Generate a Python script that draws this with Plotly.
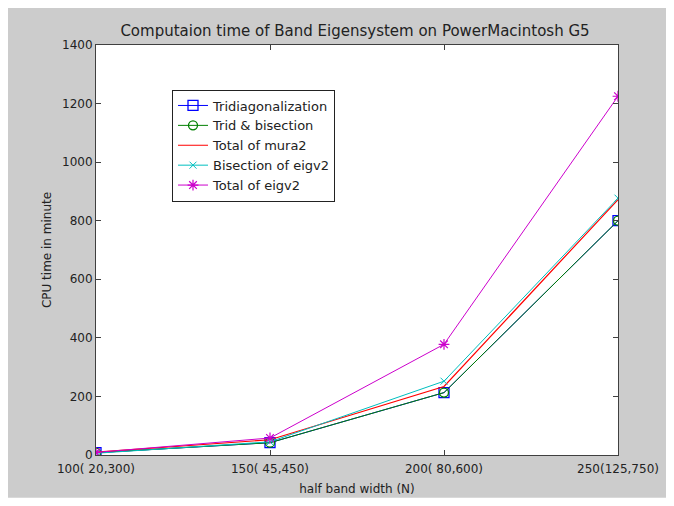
import plotly.graph_objects as go

# ---- data ----
half_band = [100, 150, 200, 250]
tick_labels = ["100( 20,300)", "150( 45,450)", "200( 80,600)", "250(125,750)"]
tridiagonalization = [8, 42, 213, 800]
trid_bisection = [8, 42, 213, 800]
total_mura2 = [10, 52, 234, 872]
bisection_eigv2 = [6, 45, 252, 877]
total_eigv2 = [9, 58, 378, 1225]
y_ticks = [0, 200, 400, 600, 800, 1000, 1200, 1400]

FONT = "DejaVu Sans, sans-serif"
TXT = "#222222"

fig = go.Figure()
fig.add_trace(go.Scatter(x=half_band, y=tridiagonalization, name="Tridiagonalization",
                         mode="lines+markers", line=dict(color="#0000ff", width=1),
                         marker=dict(symbol="square-open", size=10, color="#0000ff", line=dict(width=1.3))))
fig.add_trace(go.Scatter(x=half_band, y=trid_bisection, name="Trid & bisection",
                         mode="lines+markers", line=dict(color="#008000", width=1),
                         marker=dict(symbol="circle-open", size=9, color="#008000", line=dict(width=1.3))))
fig.add_trace(go.Scatter(x=half_band, y=total_mura2, name="Total of mura2",
                         mode="lines", line=dict(color="#ff0000", width=1.2)))
fig.add_trace(go.Scatter(x=half_band, y=bisection_eigv2, name="Bisection of eigv2",
                         mode="lines+markers", line=dict(color="#00bfbf", width=1),
                         marker=dict(symbol="x-thin-open", size=7, color="#00bfbf", line=dict(width=1, color="#00bfbf"))))
fig.add_trace(go.Scatter(x=half_band, y=total_eigv2, name="Total of eigv2",
                         mode="lines+markers", line=dict(color="#cc00cc", width=1),
                         marker=dict(symbol="asterisk-open", size=9, color="#cc00cc", line=dict(width=1.2, color="#cc00cc"))))

axis_common = dict(showline=True, linecolor="#404040", linewidth=1, mirror="ticks",
                   ticks="inside", ticklen=5, tickcolor="#404040", showgrid=False, zeroline=False,
                   tickfont=dict(family=FONT, size=12, color=TXT))

fig.update_xaxes(range=[100, 250], tickvals=half_band, ticktext=tick_labels, ticklabelstandoff=3,
                 title=dict(text="half band width (N)", font=dict(family=FONT, size=12, color=TXT), standoff=9),
                 **axis_common)
fig.update_yaxes(range=[0, 1400], tickvals=y_ticks,
                 title=dict(text="CPU time in minute", font=dict(family=FONT, size=12, color=TXT), standoff=7),
                 **axis_common)

# The page body has an 8px margin, so the figure starts at page (8, 8).
OFF = 8
FW, FH = 674 - OFF, 506 - OFF
PL, PR, PT, PB = 96 - OFF, 618 - OFF, 45 - OFF, 457 - OFF  # plot area in figure px
W, H = float(PR - PL), float(PB - PT)
def px(x): return (x - OFF - PL) / W      # page px -> paper x
def py(y): return (PB - (y - OFF)) / H    # page px -> paper y

white = dict(type="rect", xref="paper", yref="paper", fillcolor="white", line=dict(width=0), layer="above")
shapes = [
    dict(white, x0=px(669), x1=px(690), y0=py(520), y1=py(0)),
    dict(white, x0=px(0), x1=px(690), y0=py(520), y1=py(500)),
]

fig.update_layout(
    width=FW, height=FH,
    margin=dict(l=PL, r=FW - PR, t=PT, b=FH - PB),
    paper_bgcolor="#cccccc", plot_bgcolor="white",
    title=dict(text="Computaion time of Band Eigensystem on PowerMacintosh G5",
               x=(355 - OFF) / FW, xref="container", xanchor="center",
               y=1 - (31 - OFF) / FH, yanchor="middle",
               font=dict(family=FONT, size=15, color=TXT)),
    legend=dict(x=px(172), y=py(146), xanchor="left", yanchor="middle",
                bgcolor="white", bordercolor="#222222", borderwidth=1,
                font=dict(family=FONT, size=13, color=TXT),
                tracegroupgap=0, itemwidth=30),
    shapes=shapes,
    showlegend=True,
)

fig.write_html("out.html")
